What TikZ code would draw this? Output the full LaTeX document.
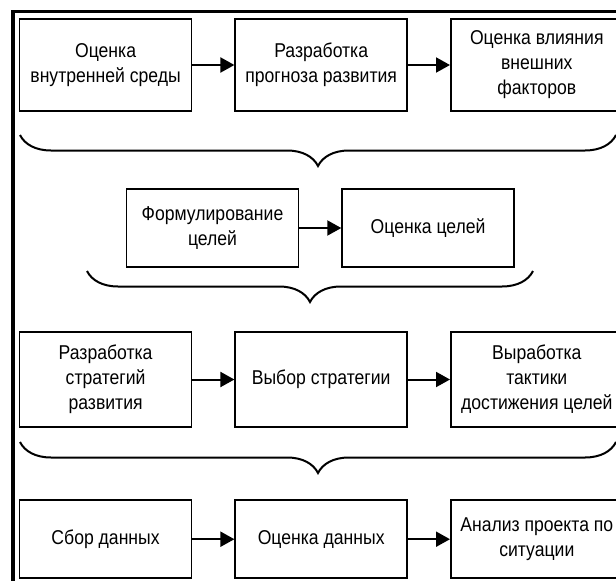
\documentclass[tikz,border=0pt]{standalone}
\usepackage{fontspec}
\setmainfont[FakeStretch=0.88]{Liberation Sans}
\usetikzlibrary{arrows.meta, positioning, decorations.pathreplacing}

\begin{document}
\begin{tikzpicture}[
    x=1pt, y=-1pt,
    node distance=0.5cm and 42pt,
    every node/.style={font=\fontsize{20}{25}\selectfont},
    stage/.style={rectangle, draw, line width=1.6pt, minimum width=172pt, minimum height=92pt, align=center, inner sep=2pt},
    stagelow/.style={stage, minimum height=78pt},
    arrow/.style={-{Triangle[length=14pt, width=15pt]}, line width=2pt},
    curly/.style={decorate, decoration={brace, mirror, amplitude=31pt}, line width=2pt}
]
    \useasboundingbox (0,0) rectangle (616,581);
    \clip (0,0) rectangle (616,581);
    \draw[line width=3.5pt] (13,11.5) rectangle (640,600);

    % row 1
    \node[stage] (evalint) at (105.6,65) {Оценка\\внутренней среды};
    \node[stage, right=of evalint] (forecast) {Разработка\\прогноза развития};
    \node[stage, right=of forecast] (evalext) {Оценка влияния\\внешних\\факторов};
    \draw[arrow] (evalint) -- (forecast);
    \draw[arrow] (forecast) -- (evalext);
    \draw[curly] (20,135) -- (616,135);

    % row 2
    \node[stagelow] (goalform) at (212.5,228) {Формулирование\\целей};
    \node[stagelow, right=of goalform] (goaleval) {Оценка целей};
    \draw[arrow] (goalform) -- (goaleval);
    \draw[curly] (87,271) -- (533,271);

    % row 3
    \node[stage, minimum height=95pt] (stratdev) at (105.6,379.5) {Разработка\\стратегий\\развития};
    \node[stage, minimum height=95pt, right=of stratdev] (stratchoice) {Выбор стратегии};
    \node[stage, minimum height=95pt, right=of stratchoice] (tactics) {Выработка\\тактики\\достижения целей};
    \draw[arrow] (stratdev) -- (stratchoice);
    \draw[arrow] (stratchoice) -- (tactics);
    \draw[curly] (20,442) -- (616,442);

    % row 4
    \node[stagelow] (datacollect) at (105.6,539.2) {Сбор данных};
    \node[stagelow, right=of datacollect] (dataeval) {Оценка данных};
    \node[stagelow, right=of dataeval] (analysis) {Анализ проекта по\\ситуации};
    \draw[arrow] (datacollect) -- (dataeval);
    \draw[arrow] (dataeval) -- (analysis);
\end{tikzpicture}
\end{document}
